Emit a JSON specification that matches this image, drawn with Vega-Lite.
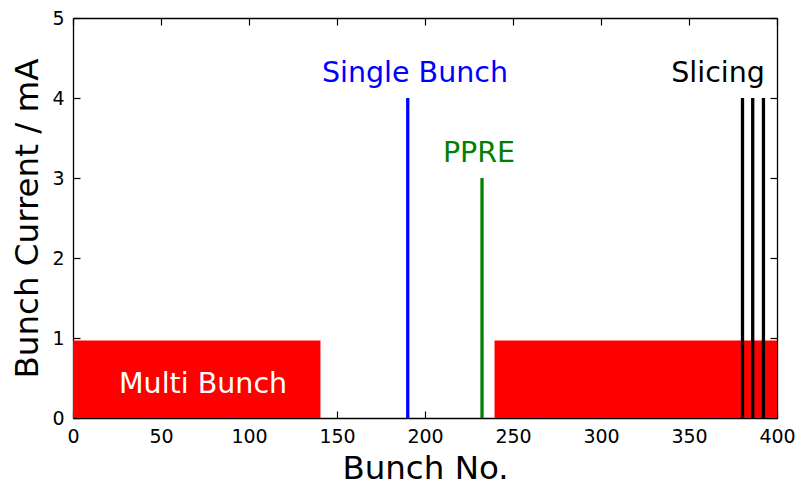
{
  "$schema": "https://vega.github.io/schema/vega-lite/v6.json",
  "width": 704,
  "height": 400,
  "autosize": {"type": "none"},
  "padding": {"left": 73, "top": 18, "right": 19, "bottom": 63},
  "config": {
    "font": "DejaVu Sans",
    "view": {"stroke": null},
    "axis": {
      "grid": false,
      "domainColor": "black",
      "domainWidth": 1.3,
      "tickColor": "black",
      "tickWidth": 1.2,
      "tickSize": -7,
      "labelColor": "black",
      "titleColor": "black",
      "labelFont": "DejaVu Sans",
      "titleFont": "DejaVu Sans",
      "labelFontSize": 19,
      "titleFontSize": 32.5,
      "titleFontWeight": "normal",
      "labelPadding": 16,
      "labelFlush": false,
      "labelOverlap": false
    }
  },
  "datasets": {
    "multi": [
      {"start": 0, "end": 140.6, "current": 0.97},
      {"start": 239.5, "end": 400, "current": 0.97}
    ],
    "rules": [
      {"bunch": 190.2, "current": 4, "mode": "Single Bunch"},
      {"bunch": 232.4, "current": 3, "mode": "PPRE"},
      {"bunch": 380.4, "current": 4, "mode": "Slicing"},
      {"bunch": 386.2, "current": 4, "mode": "Slicing"},
      {"bunch": 392.3, "current": 4, "mode": "Slicing"}
    ],
    "labels": [
      {"x": 194.3, "y": 4.2, "text": "Single Bunch", "mode": "Single Bunch"},
      {"x": 230.7, "y": 3.2, "text": "PPRE", "mode": "PPRE"},
      {"x": 366.5, "y": 4.2, "text": "Slicing", "mode": "Slicing"},
      {"x": 73.9, "y": 0.31, "text": "Multi Bunch", "mode": "Multi Bunch"}
    ]
  },
  "layer": [
    {
      "data": {"name": "multi"},
      "mark": {"type": "rect", "color": "#ff0000"},
      "encoding": {
        "x": {
          "field": "start", "type": "quantitative",
          "scale": {"domain": [0, 400], "nice": false, "zero": false, "padding": 0},
          "axis": {
            "orient": "bottom", "title": "Bunch No.",
            "values": [0, 50, 100, 150, 200, 250, 300, 350, 400],
            "titleX": 352, "titleY": 60, "titleBaseline": "alphabetic"
          }
        },
        "x2": {"field": "end"},
        "y": {
          "field": "current", "type": "quantitative",
          "scale": {"domain": [0, 5], "nice": false, "padding": 0},
          "axis": {
            "orient": "left", "title": "Bunch Current / mA",
            "values": [0, 1, 2, 3, 4, 5],
            "titleX": -36, "titleY": 200, "titleAngle": -90,
            "titleBaseline": "alphabetic", "titleAlign": "center"
          }
        },
        "y2": {"datum": 0}
      }
    },
    {
      "data": {"name": "rules"},
      "mark": {"type": "rule", "strokeWidth": 3.3},
      "encoding": {
        "x": {"field": "bunch", "type": "quantitative", "axis": null},
        "y": {"field": "current", "type": "quantitative", "axis": null},
        "y2": {"datum": 0},
        "color": {
          "field": "mode", "type": "nominal",
          "scale": {"domain": ["Multi Bunch", "Single Bunch", "PPRE", "Slicing"], "range": ["#ffffff", "#0000ff", "#008000", "#000000"]},
          "legend": null
        }
      }
    },
    {
      "data": {"name": "labels"},
      "mark": {"type": "text", "fontSize": 28.5, "align": "center", "baseline": "alphabetic", "font": "DejaVu Sans"},
      "encoding": {
        "x": {"field": "x", "type": "quantitative", "axis": null},
        "y": {"field": "y", "type": "quantitative", "axis": null},
        "text": {"field": "text"},
        "color": {"field": "mode", "type": "nominal", "legend": null}
      }
    },
    {
      "data": {"name": "rules"},
      "mark": {"type": "point", "opacity": 0},
      "encoding": {
        "x": {"field": "bunch", "type": "quantitative",
          "axis": {"orient": "top", "labels": false, "title": null, "values": [0, 50, 100, 150, 200, 250, 300, 350, 400]}},
        "y": {"field": "current", "type": "quantitative",
          "axis": {"orient": "right", "labels": false, "title": null, "values": [0, 1, 2, 3, 4, 5]}}
      }
    }
  ],
  "resolve": {"axis": {"x": "independent", "y": "independent"}}
}
